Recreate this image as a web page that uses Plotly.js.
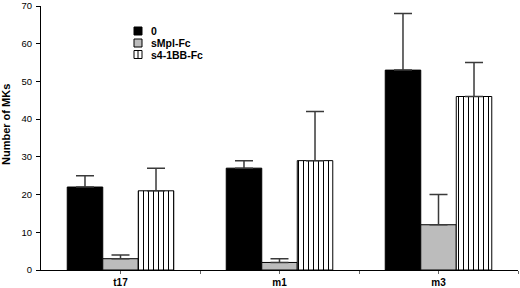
<!DOCTYPE html>
<html>
<head>
<meta charset="utf-8">
<script src="https://cdn.plot.ly/plotly-3.0.1.min.js"></script>
<style>html,body{margin:0;padding:0;background:#fff;}#chart{width:520px;height:288px;}</style>
</head>
<body>
<div id="chart"></div>
<script>
var categories = ["t17", "m1", "m3"];
var seriesNames = ["0", "sMpl-Fc", "s4-1BB-Fc"];
var valuesControl = [22, 27, 53];
var errorsControl = [3, 2, 15];
var valuesMpl = [3, 2, 12];
var errorsMpl = [1, 1, 8];
var valuesBB = [21, 29, 46];
var errorsBB = [6, 13, 9];
var yTicks = [0, 10, 20, 30, 40, 50, 60, 70];

var W = 520, H = 288, ML = 41, MR = 2, MT = 6, MB = 18;
var PW = W - ML - MR, PH = H - MT - MB;
function px2x(p) { return (p - ML) / PW; }
function px2y(p) { return 1 - (p - MT) / PH; }

var xIdx = categories.map(function (c, i) { return i; });
var tickVals = [], tickText = [];
categories.forEach(function (c, i) {
  tickVals.push(i); tickText.push(c);
  tickVals.push(i + 0.5); tickText.push("");
});

var font = "Liberation Sans, Arial, Helvetica, sans-serif";
function err(arr) {
  return {type: "data", array: arr, symmetric: false, arrayminus: arr.map(function(){return 0;}),
          color: "#3a3a3a", thickness: 1.5, width: 9};
}
var fills = ["#000000", "#bcbcbc", "#ffffff"];
var traces = [
  {type: "bar", name: seriesNames[0], x: xIdx, y: valuesControl, error_y: err(errorsControl),
   marker: {color: fills[0], line: {color: "#000000", width: 1}}},
  {type: "bar", name: seriesNames[1], x: xIdx, y: valuesMpl, error_y: err(errorsMpl),
   marker: {color: fills[1], line: {color: "#000000", width: 1}}},
  {type: "bar", name: seriesNames[2], x: xIdx, y: valuesBB, error_y: err(errorsBB),
   marker: {color: fills[2], line: {color: "#000000", width: 1},
            pattern: {shape: "|", size: 5, solidity: 0.2, fgcolor: "#000000", bgcolor: "#ffffff", fillmode: "replace"}}}
];

// legend drawn as small squares with tight rows, like the original
var shapes = [], annotations = [];
var legRows = [31, 43, 54.5];
seriesNames.forEach(function (n, i) {
  var cy = legRows[i];
  shapes.push({type: "rect", xref: "paper", yref: "paper",
    x0: px2x(134), x1: px2x(142), y0: px2y(cy + 4), y1: px2y(cy - 4),
    fillcolor: fills[i], line: {color: "#000", width: 1}});
  if (i === 2) {
    shapes.push({type: "line", xref: "paper", yref: "paper",
      x0: px2x(138), x1: px2x(138), y0: px2y(cy + 4), y1: px2y(cy - 4),
      line: {color: "#000", width: 1}});
  }
  annotations.push({xref: "paper", yref: "paper", x: px2x(149), y: px2y(cy), xanchor: "left", yanchor: "middle",
    text: n, showarrow: false, font: {family: font, size: 10.5, color: "#000", weight: "bold"}});
});
annotations.push({xref: "paper", yref: "paper", x: px2x(6), y: px2y(125), xanchor: "center", yanchor: "middle",
  text: "Number of MKs", textangle: -90, showarrow: false,
  font: {family: font, size: 11, color: "#000", weight: "bold"}});

var layout = {
  width: W, height: H,
  margin: {l: ML, r: MR, t: MT, b: MB, pad: 0},
  paper_bgcolor: "#ffffff", plot_bgcolor: "#ffffff",
  barmode: "group", bargap: 0.33, bargroupgap: 0,
  showlegend: false,
  font: {family: font, size: 10, color: "#000"},
  shapes: shapes, annotations: annotations,
  xaxis: {type: "linear", range: [-0.5, 2.5], tickmode: "array", tickvals: tickVals, ticktext: tickText,
          showgrid: false, zeroline: false, showline: true, linecolor: "#000", linewidth: 1,
          ticks: "outside", ticklen: 3, tickcolor: "#666", tickwidth: 1, ticklabelstandoff: 0,
          tickfont: {family: font, size: 10, color: "#000", weight: "bold"}, fixedrange: true},
  yaxis: {range: [0, 70], tickmode: "array", tickvals: yTicks, showgrid: false, zeroline: false,
          showline: true, linecolor: "#000", linewidth: 1, ticks: "outside", ticklen: 4,
          tickcolor: "#000", tickwidth: 1, ticklabelstandoff: 2,
          tickfont: {family: font, size: 9.5, color: "#000"}}
};

Plotly.newPlot("chart", traces, layout, {staticPlot: true, displayModeBar: false});
</script>
</body>
</html>
